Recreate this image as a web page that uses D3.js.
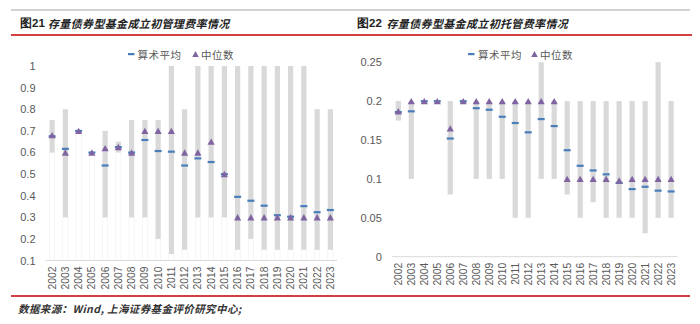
<!DOCTYPE html>
<html><head><meta charset="utf-8">
<script src="https://cdn.jsdelivr.net/npm/d3@7"></script>
<style>body{margin:0;background:#fff}svg{display:block}</style>
</head><body>
<svg id="c" width="700" height="324"></svg>
<script>
// ---------- data ----------
const years = ['2002','2003','2004','2005','2006','2007','2008','2009','2010','2011','2012','2013','2014','2015','2016','2017','2018','2019','2020','2021','2022','2023'];

// 图21 管理费率
const mgmtMin    = [0.60,0.30,0.70,0.60,0.30,0.60,0.30,0.30,0.20,0.13,0.15,0.30,0.30,0.30,0.15,0.20,0.15,0.15,0.15,0.15,0.15,0.15];
const mgmtMax    = [0.75,0.80,0.70,0.60,0.70,0.65,0.75,0.75,0.75,1.00,0.80,1.00,1.00,1.00,1.00,1.00,1.00,1.00,1.00,1.00,0.80,0.80];
const mgmtMean   = [0.675,0.617,0.70,0.60,0.54,0.625,0.60,0.658,0.607,0.604,0.54,0.573,0.556,0.50,0.395,0.377,0.354,0.31,0.303,0.352,0.324,0.334];
const mgmtMedian = [0.68,0.60,0.70,0.60,0.62,0.625,0.60,0.70,0.70,0.70,0.60,0.60,0.65,0.50,0.30,0.30,0.30,0.30,0.30,0.30,0.30,0.30];
const mgmtTicks  = [0.1,0.2,0.3,0.4,0.5,0.6,0.7,0.8,0.9,1.0];
const mgmtTickLabels = ['0.1','0.2','0.3','0.4','0.5','0.6','0.7','0.8','0.9','1'];

// 图22 托管费率
const custMin    = [0.175,0.10,0.20,0.20,0.08,0.20,0.10,0.10,0.10,0.05,0.05,0.10,0.10,0.08,0.05,0.07,0.05,0.05,0.05,0.03,0.05,0.05];
const custMax    = [0.20,0.20,0.20,0.20,0.20,0.20,0.20,0.20,0.20,0.20,0.20,0.25,0.20,0.20,0.20,0.20,0.20,0.20,0.20,0.20,0.25,0.20];
const custMean   = [0.186,0.187,0.20,0.20,0.152,0.20,0.191,0.189,0.18,0.172,0.16,0.177,0.168,0.137,0.117,0.111,0.106,0.095,0.087,0.09,0.085,0.084];
const custMedian = [0.187,0.20,0.20,0.20,0.165,0.20,0.20,0.20,0.20,0.20,0.20,0.20,0.20,0.10,0.10,0.10,0.10,0.098,0.10,0.10,0.10,0.10];
const custTicks  = [0,0.05,0.1,0.15,0.2,0.25];
const custTickLabels = ['0','0.05','0.1','0.15','0.2','0.25'];

const legendLabels = ['算术平均','中位数'];
const titles = [['图21','存量债券型基金成立初管理费率情况'],['图22','存量债券型基金成立初托管费率情况']];
const sourceText = '数据来源：Wind, 上海证券基金评价研究中心;';

// ---------- styles ----------
const BAR = '#d9d9d9', MEAN = '#4a7ebb', MED = '#8064a2', TXT = '#595959';
const CJK = '"Noto Sans CJK SC","Noto Sans",sans-serif';
const LAT = '"Liberation Sans",Arial,sans-serif';

const svg = d3.select('#c');

// frame lines
svg.append('line').attr('x1',11).attr('x2',690).attr('y1',10).attr('y2',10).attr('stroke','#a6a6a6').attr('stroke-width',1.2);
svg.append('line').attr('x1',11).attr('x2',692).attr('y1',35).attr('y2',35).attr('stroke','#c00000').attr('stroke-width',1.6);
svg.append('line').attr('x1',11).attr('x2',690).attr('y1',296).attr('y2',296).attr('stroke','#c00000').attr('stroke-width',1.6);

// titles
[[20,48],[357,386.5]].forEach((p,i)=>{
  svg.append('text').attr('x',p[0]).attr('y',23).attr('dominant-baseline','central')
    .attr('font-family',LAT).attr('font-weight','bold').attr('font-size',11.5).attr('fill','#222').text(titles[i][0]);
  svg.append('text').attr('x',p[1]).attr('y',23).attr('dominant-baseline','central')
    .attr('font-family',CJK).attr('font-weight',600).attr('font-size',11).attr('letter-spacing',0.35)
    .attr('font-style','italic').attr('fill','#222').text(titles[i][1]);
});

// source
svg.append('text').attr('x',18).attr('y',308.5).attr('dominant-baseline','central')
  .attr('font-family',CJK).attr('font-size',10.5).attr('font-style','italic').attr('font-weight',600)
  .attr('letter-spacing',0.4).attr('fill','#333').text(sourceText);

function tri(w,h){return `M0,${-h/2}L${w/2},${h/2}L${-w/2},${h/2}Z`;}

function panel(o){
  const g = svg.append('g');
  const x = d3.scaleBand().domain(years).range(o.xr);
  const y = d3.scaleLinear().domain(o.yd).range(o.yr);
  const bw = 5.2;
  const cx = d => x(d) + x.bandwidth()/2;
  const base = y(o.yd[0]);

  if (o.ghost) {
    g.selectAll('rect.gh').data(years).join('rect')
      .attr('x',(d)=>cx(d)-bw/2).attr('width',bw)
      .attr('y',(d,i)=>y(o.min[i])).attr('height',(d,i)=>base-y(o.min[i]))
      .attr('fill','#fff').attr('stroke','#f0f0f0').attr('stroke-width',0.6);
  }
  g.selectAll('rect.bar').data(years).join('rect')
    .attr('x',d=>cx(d)-bw/2).attr('width',bw)
    .attr('y',(d,i)=>y(o.max[i])).attr('height',(d,i)=>Math.max(0,y(o.min[i])-y(o.max[i])))
    .attr('fill',BAR);

  // x axis line
  g.append('line').attr('x1',o.xr[0]).attr('x2',o.xr[1]).attr('y1',base).attr('y2',base)
    .attr('stroke','#d9d9d9').attr('stroke-width',1);

  // y axis
  const ya = g.append('g').attr('transform',`translate(${o.xr[0]},0)`)
    .call(d3.axisLeft(y).tickValues(o.ticks).tickFormat((d,i)=>o.tickLabels[i]).tickSize(0).tickPadding(10));
  ya.select('.domain').remove();
  ya.selectAll('text').attr('font-family',LAT).attr('font-size',11).attr('fill',TXT);

  // x labels
  g.selectAll('text.xl').data(years).join('text')
    .attr('transform',d=>`translate(${cx(d)},${base+6}) rotate(-90)`)
    .attr('text-anchor','end').attr('dy','0.35em')
    .attr('font-family',LAT).attr('font-size',10.3).attr('fill',TXT).text(d=>d);

  // mean dashes
  g.selectAll('rect.mean').data(years).join('rect')
    .attr('x',d=>cx(d)-3.5).attr('width',7)
    .attr('y',(d,i)=>y(o.mean[i])-1).attr('height',2.2).attr('fill',MEAN);

  // median triangles
  g.selectAll('path.med').data(years).join('path')
    .attr('d',tri(7.2,6.4))
    .attr('transform',(d,i)=>`translate(${cx(d)},${y(o.med[i])})`).attr('fill',MED);

  // legend
  const L = o.legend;
  g.append('rect').attr('x',L[0]).attr('y',53).attr('width',6.5).attr('height',2.2).attr('fill',MEAN);
  g.append('text').attr('x',L[1]).attr('y',54.5).attr('dominant-baseline','central')
    .attr('font-family',CJK).attr('font-size',10.5).attr('letter-spacing',0.5).attr('fill',TXT).text(legendLabels[0]);
  g.append('path').attr('d',tri(6.5,6)).attr('transform',`translate(${L[2]},54)`).attr('fill',MED);
  g.append('text').attr('x',L[3]).attr('y',54.5).attr('dominant-baseline','central')
    .attr('font-family',CJK).attr('font-size',10.5).attr('letter-spacing',0.5).attr('fill',TXT).text(legendLabels[1]);
}

panel({xr:[45.5,337], yd:[0.1,1.0], yr:[260.5,66], ticks:mgmtTicks, tickLabels:mgmtTickLabels,
  min:mgmtMin, max:mgmtMax, mean:mgmtMean, med:mgmtMedian, ghost:true, legend:[128,137.5,195.5,201]});
panel({xr:[391.8,677.6], yd:[0,0.25], yr:[256.7,62.2], ticks:custTicks, tickLabels:custTickLabels,
  min:custMin, max:custMax, mean:custMean, med:custMedian, ghost:false, legend:[468,478,534.5,540]});
</script>
</body></html>
